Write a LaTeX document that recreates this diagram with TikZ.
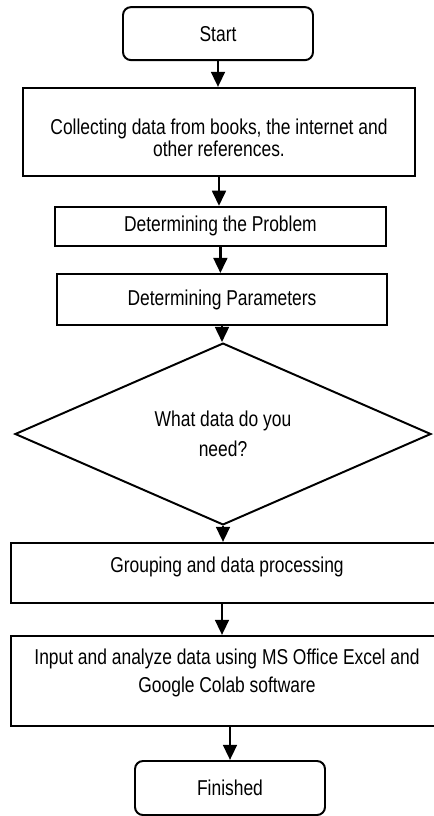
\documentclass[tikz,border=0pt]{standalone}
\usepackage{fontspec}
\setmainfont[FakeStretch=0.81]{Liberation Sans}
\usepackage{xcolor}
\definecolor{ink}{RGB}{0,0,0}
\usepackage{tikz}
\usetikzlibrary{arrows.meta,shapes.geometric}

\tikzset{
    box/.style={draw=ink, line width=1.4pt, fill=white, inner sep=0pt, align=center},
    terminal/.style={box, rounded corners=0.2cm},
    decision/.style={draw=ink, line width=1.4pt, diamond, inner sep=0pt, align=center},
    label text/.style={inner sep=0pt, align=center},
    flow/.style={draw=ink, line width=2.1pt, -{Triangle[length=0.38cm, width=0.34cm]}}
}

\begin{document}
\begin{tikzpicture}[
    font=\fontsize{15.3}{14.2}\selectfont
]

% Page area
\fill[white] (0,0) rectangle (10.85,-20.4);
\useasboundingbox (0,0) rectangle (10.85,-20.4);

% Start terminal
\node[terminal, minimum width=4.75cm, minimum height=1.325cm] (start) at (5.45,-0.84) {Start};

% Process steps
\node[box, minimum width=9.8cm, minimum height=2.2cm] (collect) at (5.475,-3.3) {};
\node[label text] (collect-text) at ([yshift=-0.15cm]collect.center) {Collecting data from books, the internet and\\ other references.};

\node[box, minimum width=8.275cm, minimum height=0.975cm] (problem) at (5.51,-5.66) {Determining the Problem};
\node[box, minimum width=8.25cm, minimum height=1.275cm] (params) at (5.55,-7.49) {Determining Parameters};

% Decision
\node[decision, minimum width=10.4cm, minimum height=4.1cm] (decide) at (5.575,-10.85) {What data do you\\[5.7pt] need?};

% Processing and analysis
\node[box, minimum width=10.8cm, minimum height=1.5cm] (group) at (5.675,-14.325) {};
\node[label text] (group-text) at ([yshift=0.15cm]group.center) {Grouping and data processing};

\node[box, minimum width=10.8cm, minimum height=2.25cm] (input) at (5.675,-17.025) {};
\node[label text] (input-text) at ([yshift=0.2cm]input.center) {Input and analyze data using MS Office Excel and\\[4.8pt] Google Colab software};

% End terminal
\node[terminal, minimum width=4.75cm, minimum height=1.35cm] (finish) at (5.75,-19.7) {Finished};

% Connectors
\draw[flow] (start.south) -- (start.south |- collect.north);
\draw[flow] (collect.south) -- (collect.south |- problem.north);
\draw[flow] (problem.south) -- (problem.south |- params.north);
\draw[flow] (params.south) -- (params.south |- decide.north);
\draw[flow] (decide.south) -- (decide.south |- group.north);
\draw[flow] ([xshift=-0.125cm]group.south) -- ([xshift=-0.125cm]group.south |- input.north);
\draw[flow] (input.south -| finish.north) -- (finish.north);

\end{tikzpicture}
\end{document}
